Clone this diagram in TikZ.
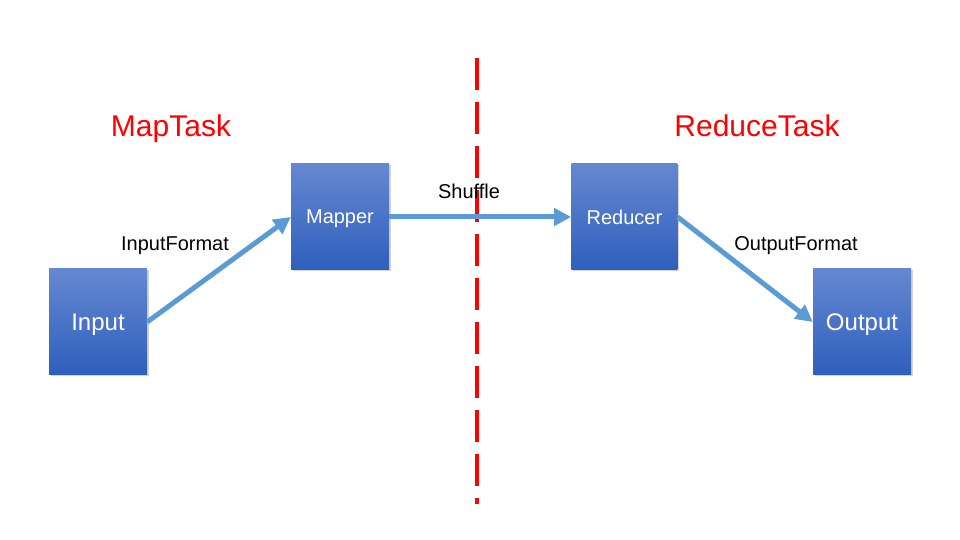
\documentclass[tikz,border=0pt]{standalone}
\usepackage{fontspec}
\setmainfont{Liberation Sans}
\usetikzlibrary{positioning,arrows.meta,shadows}
\definecolor{boxtop}{RGB}{101,136,208}
\definecolor{boxbottom}{RGB}{46,95,189}
\definecolor{flowblue}{RGB}{91,155,213}

\begin{document}
\begin{tikzpicture}[
        x=1pt, y=1pt,
        font=\fontsize{20}{24}\selectfont,
        task/.style={draw=none, minimum width=98pt, minimum height=106pt, inner sep=0pt,
            top color=boxtop, bottom color=boxbottom, text=white, text depth=0pt,
            drop shadow={shadow xshift=1.5pt, shadow yshift=-1.5pt, opacity=0.35}},
        io/.style={task, font=\fontsize{24}{28}\selectfont},
        phase/.style={text=red, font=\fontsize{30}{36}\selectfont, anchor=base},
        label/.style={text=black, anchor=base},
        arrow/.style={-{Triangle[length=17pt, width=17pt]}, line width=5pt, draw=flowblue},
        divider/.style={draw=red, line width=4pt, dash pattern=on 32pt off 12pt},
    ]
    \useasboundingbox (0,0) rectangle (960,540);

    % Phases
    \node[phase] (maptask) at (171,403) {MapTask};
    \node[phase] (reducetask) at (757,403) {ReduceTask};
    \coordinate (divtop) at (477,482);
    \coordinate (divbottom) at (477,36);
    \draw[divider] (divtop) -- (divbottom);

    % Boxes
    \node[io] (input) at (98,218) {Input};
    \node[task] (mapper) at (340,323) {Mapper};
    \node[task, minimum width=106pt, right=182pt of mapper] (reducer) {Reducer};
    \node[io] (output) at (862,218) {Output};

    % Flow
    \draw[arrow] (input.east) -- (mapper.west);
    \draw[arrow] (mapper.east) -- (reducer.west);
    \draw[arrow] (reducer.east) -- (output.west);

    % Labels
    \node[label] (inputformat) at (175,289) {InputFormat};
    \node[label] (shuffle) at (469,341) {Shuffle};
    \node[label] (outputformat) at (796,289) {OutputFormat};

\end{tikzpicture}
\end{document}
